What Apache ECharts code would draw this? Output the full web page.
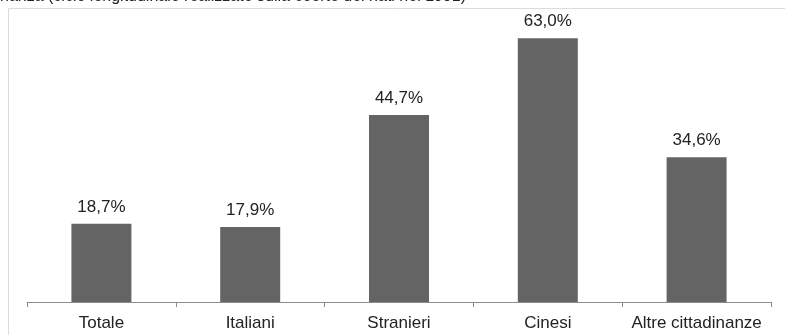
<!DOCTYPE html>
<html>
<head>
<meta charset="utf-8">
<script src="https://cdn.jsdelivr.net/npm/echarts@6/dist/echarts.min.js"></script>
<style>html,body{margin:0;padding:0;background:#fff}#c{width:785px;height:335px}</style>
</head>
<body>
<div id="c"></div>
<script>
const categories = ["Totale", "Italiani", "Stranieri", "Cinesi", "Altre cittadinanze"];
const values = [18.7, 17.9, 44.7, 63.0, 34.6];
const titleText = "nanza (ciclo longitudinale realizzato sulla coorte dei nati nel 1991)";

const chart = echarts.init(document.getElementById('c'), null, {renderer: 'canvas'});
chart.setOption({
  animation: false,
  backgroundColor: '#ffffff',
  textStyle: {fontFamily: 'Liberation Sans, Arial, sans-serif'},
  grid: {left: 27, right: 14, top: 9, bottom: 33},
  xAxis: {
    type: 'category',
    data: categories,
    axisLine: {lineStyle: {color: '#8c8c8c', width: 1}},
    axisTick: {show: true, interval: 0, length: 5, lineStyle: {color: '#8c8c8c'}},
    axisLabel: {color: '#222', fontSize: 17, margin: 13, interval: 0, hideOverlap: false}
  },
  yAxis: {type: 'value', min: 0, max: 70, show: false, splitLine: {show: false}},
  series: [{
    type: 'bar',
    data: values,
    barWidth: 60,
    itemStyle: {color: '#646464'},
    label: {
      show: true, position: 'top', distance: 8, color: '#222', fontSize: 17,
      formatter: p => p.value.toFixed(1).replace('.', ',') + '%'
    }
  }],
  graphic: [
    {type: 'line', shape: {x1: 8.5, y1: 8.5, x2: 785, y2: 8.5}, style: {stroke: '#dcdcdc', lineWidth: 1}},
    {type: 'line', shape: {x1: 8.5, y1: 8.5, x2: 8.5, y2: 335}, style: {stroke: '#dcdcdc', lineWidth: 1}},
    {type: 'text', left: 0, top: -11, style: {text: titleText, fontSize: 16, fill: '#222', fontFamily: 'Liberation Sans, Arial, sans-serif'}}
  ]
});
</script>
</body>
</html>
